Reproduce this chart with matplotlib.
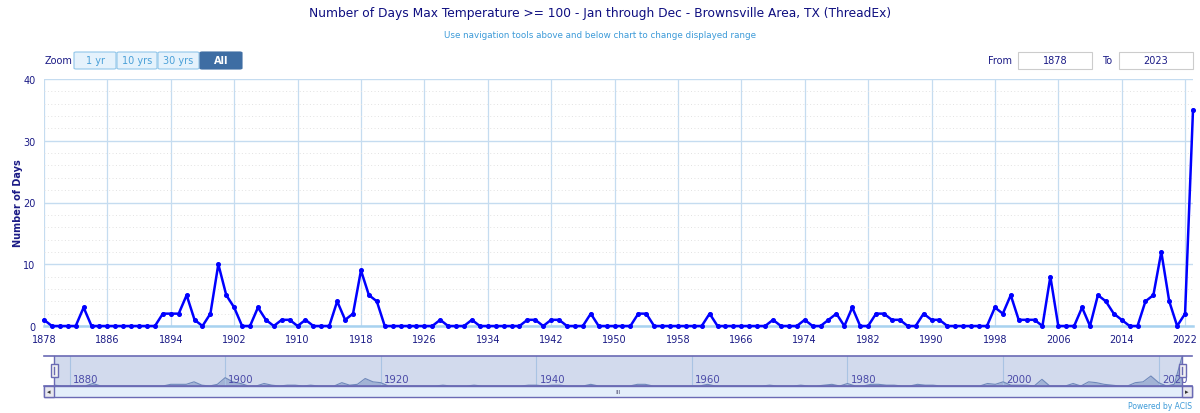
import numpy as np
import matplotlib
matplotlib.use("Agg")
import matplotlib.pyplot as plt
from matplotlib.patches import Rectangle, FancyBboxPatch
from matplotlib.ticker import MultipleLocator

# days per year with max temp >= 100, Brownsville area, 1878-2023
years = list(range(1878, 2024))
days = [1, 0, 0, 0, 0, 3, 0, 0, 0, 0, 0, 0, 0, 0, 0,            # 1878-1892
        2, 2, 2, 5, 1, 0, 2, 10, 5, 3, 0, 0, 3, 1, 0, 1, 1,      # 1893-1909
        0, 1, 0, 0, 0, 4, 1, 2, 9, 5, 4,                         # 1910-1920
        0, 0, 0, 0, 0, 0, 0, 1, 0, 0, 0, 1,                      # 1921-1932
        0, 0, 0, 0, 0, 0, 1, 1, 0, 1, 1, 0, 0, 0, 2,             # 1933-1947
        0, 0, 0, 0, 0, 2, 2, 0, 0, 0, 0, 0, 0, 0, 2,             # 1948-1962
        0, 0, 0, 0, 0, 0, 0, 1, 0, 0, 0, 1, 0, 0, 1, 2, 0, 3,    # 1963-1980
        0, 0, 2, 2, 1, 1, 0, 0, 2, 1, 1,                         # 1981-1991
        0, 0, 0, 0, 0, 0, 3, 2, 5, 1, 1, 1, 0, 8,                # 1992-2005
        0, 0, 0, 3, 0, 5, 4, 2, 1, 0, 0, 4, 5, 12, 4, 0, 2, 35]  # 2006-2023

x_ticks = list(range(1878, 2023, 8))
y_ticks = [0, 10, 20, 30, 40]
nav_ticks = [1880, 1900, 1920, 1940, 1960, 1980, 2000, 2020]

title = "Number of Days Max Temperature >= 100 - Jan through Dec - Brownsville Area, TX (ThreadEx)"
subtitle = "Use navigation tools above and below chart to change displayed range"

W, H = 1200, 414
navy = "#1b1b86"
grid_c = "#c5dcf0"
frame_c = "#6a6ab4"


def box(l, t, r, b):
    # pixel box -> figure fraction rect
    return [l / W, 1 - b / H, (r - l) / W, (b - t) / H]


def fx(x):
    return x / W


def fy(y):
    return 1 - y / H


fig = plt.figure(figsize=(W / 100, H / 100), dpi=100)
plt.rcParams["font.family"] = ["DejaVu Sans"]

fig.text(0.5, fy(13), title, ha="center", va="center", fontsize=8.8, color="#0e0e80")
fig.text(0.5, fy(35), subtitle, ha="center", va="center", fontsize=6.3, color="#3c9ad8")

# main chart
ax = fig.add_axes(box(44, 80, 1193, 327))
ax.plot(years, days, color="#0000ff", lw=1.8, marker="o", ms=2.6, zorder=3, clip_on=False)
ax.set_xlim(1878, 2023)
ax.set_ylim(0, 40)
ax.set_xticks(x_ticks)
ax.set_yticks(y_ticks)
ax.yaxis.set_minor_locator(MultipleLocator(2))
ax.grid(True, which="major", axis="x", color=grid_c, lw=0.9)
ax.grid(True, which="major", axis="y", color=grid_c, lw=1.0)
ax.grid(True, which="minor", axis="y", color="#e2e2e2", lw=0.7, ls=(0, (1, 2.5)))
for s in ["top", "right", "left"]:
    ax.spines[s].set_visible(False)
ax.spines["bottom"].set_color("#a8d2f0")
ax.spines["bottom"].set_linewidth(1.8)
ax.tick_params(axis="both", which="both", length=0, labelsize=7, labelcolor=navy)
ax.tick_params(axis="x", pad=6)
ax.tick_params(axis="y", pad=6)
ax.set_ylabel("Number of Days", fontsize=7, color=navy, fontweight="bold")
ax.yaxis.set_label_coords((23 - 44) / 1149, 0.5)

# zoom buttons
fig.text(fx(45), fy(61), "Zoom", fontsize=7, color=navy, va="center")
buttons = [("1 yr", 74, 116), ("10 yrs", 117, 157), ("30 yrs", 158, 199), ("All", 200, 242)]
for lab, l, r in buttons:
    active = lab == "All"
    fig.patches.append(FancyBboxPatch((fx(l), fy(70)), (r - l) / W, 17 / H,
                                      boxstyle="round,pad=0,rounding_size=0.002",
                                      transform=fig.transFigure,
                                      fc="#3e6da3" if active else "#e5f2fc",
                                      ec="#3e6da3" if active else "#92c6ea", lw=0.8))
    fig.text(fx((l + r) / 2), fy(61), lab, ha="center", va="center", fontsize=7,
             color="white" if active else "#4aa0d8",
             fontweight="bold" if active else "normal")

# from / to boxes
fig.text(fx(1012), fy(61), "From", ha="right", va="center", fontsize=7, color=navy)
fig.text(fx(1112), fy(61), "To", ha="right", va="center", fontsize=7, color=navy)
for val, l, r in [("1878", 1018, 1092), ("2023", 1119, 1193)]:
    fig.patches.append(Rectangle((fx(l), fy(70)), (r - l) / W, 17 / H, transform=fig.transFigure,
                                 fc="white", ec="#cccccc", lw=0.8))
    fig.text(fx((l + r) / 2), fy(61), val, ha="center", va="center", fontsize=7, color=navy)

# navigator
nav = fig.add_axes(box(54, 357, 1182, 387))
nav.set_facecolor("#d2daed")
nav.fill_between(years, days, color="#8ea3cc", alpha=0.7, lw=0)
nav.plot(years, days, color="#6f88ba", lw=0.8)
nav.set_xlim(1878, 2023)
nav.set_ylim(0, 36)
nav.set_xticks(nav_ticks)
nav.set_yticks([])
nav.grid(True, axis="x", color="#a9c3e3", lw=0.8)
nav.tick_params(axis="x", length=0, labelbottom=False)
for s in nav.spines.values():
    s.set_visible(False)
for t in nav_ticks:
    nav.text(t + 0.4, 2, str(t), fontsize=7.3, color="#4a4aa8", va="bottom", ha="left")

# navigator frame lines
fig.add_artist(plt.Line2D([fx(44), fx(1192)], [fy(357), fy(357)], color=frame_c, lw=1.2))
fig.add_artist(plt.Line2D([fx(44), fx(1192)], [fy(387), fy(387)], color=frame_c, lw=1.2))
fig.add_artist(plt.Line2D([fx(54), fx(54)], [fy(357), fy(387)], color=frame_c, lw=1.0))
fig.add_artist(plt.Line2D([fx(1182), fx(1182)], [fy(357), fy(387)], color=frame_c, lw=1.0))
for hx in (54, 1182):
    fig.patches.append(Rectangle((fx(hx - 3.5), fy(378)), 7 / W, 13 / H, transform=fig.transFigure,
                                 fc="#f2f2f2", ec=frame_c, lw=1.0, zorder=5))
    fig.add_artist(plt.Line2D([fx(hx), fx(hx)], [fy(368), fy(375)], color=frame_c, lw=1.0, zorder=6))

# scrollbar
fig.patches.append(Rectangle((fx(44), fy(398)), 1148 / W, 11 / H, transform=fig.transFigure,
                             fc="#e3eefa", ec=frame_c, lw=1.0))
for l, r, mark in [(44, 54, "\u25c2"), (1182, 1192, "\u25b8")]:
    fig.patches.append(Rectangle((fx(l), fy(398)), (r - l) / W, 11 / H, transform=fig.transFigure,
                                 fc="#e8e8ee", ec=frame_c, lw=1.0))
    fig.text(fx((l + r) / 2), fy(392.5), mark, ha="center", va="center", fontsize=5, color="#333333")
fig.text(fx(618), fy(393), "III", ha="center", va="center", fontsize=4.5, color="#555577")

fig.text(fx(1192), fy(407), "Powered by ACIS", ha="right", va="center", fontsize=5.5, color="#3c9ad8")

fig.savefig("out.png", dpi=100)
